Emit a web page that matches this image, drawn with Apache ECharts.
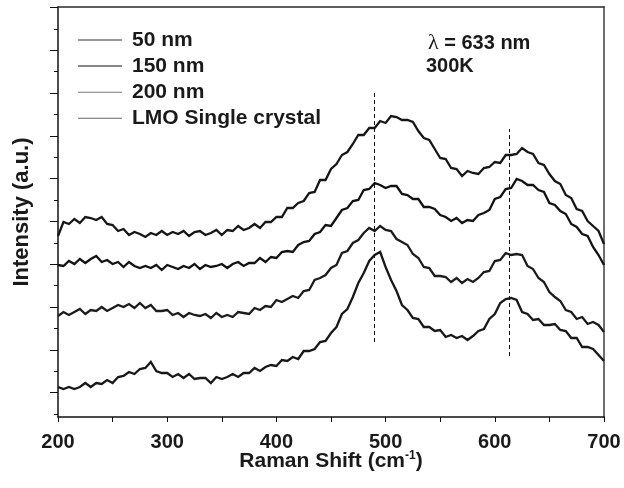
<!DOCTYPE html>
<html>
<head>
<meta charset="utf-8">
<script src="https://cdn.jsdelivr.net/npm/echarts@6/dist/echarts.min.js"></script>
<style>html,body{margin:0;padding:0;background:#fff}#chart{width:624px;height:488px}</style>
</head>
<body>
<div id="chart"></div>
<script>
// Raman shift axis (cm-1)
const ramanShift = [200,205,210,215,220,225,230,235,240,245,250,255,260,265,270,275,280,285,290,295,300,305,310,315,320,325,330,335,340,345,350,355,360,365,370,375,380,385,390,395,400,405,410,415,420,425,430,435,440,445,450,455,460,465,470,475,480,485,490,495,500,505,510,515,520,525,530,535,540,545,550,555,560,565,570,575,580,585,590,595,600,605,610,615,620,625,630,635,640,645,650,655,660,665,670,675,680,685,690,695,700];

// Intensities (a.u., spectra stacked with offsets)
const nm50 = [181,195,193,198,194,200,199,197,200,193,192,186,188,182,185,183,180,184,182,186,182,185,183,186,181,185,186,182,184,187,182,187,186,191,187,189,193,189,195,195,200,200,209,209,214,216,224,225,237,237,248,253,262,265,273,282,282,289,289,296,294,301,300,297,297,295,286,279,277,268,259,258,249,248,241,246,244,243,249,250,255,254,262,262,263,269,265,263,254,252,243,236,233,222,219,208,206,196,191,186,173];
const nm150 = [152,151,156,153,158,154,158,161,155,157,153,155,150,155,151,149,151,149,152,147,152,150,148,151,149,153,148,152,150,151,153,149,153,155,151,154,154,159,155,160,159,165,166,165,172,175,176,183,185,192,191,199,207,209,216,217,227,228,234,232,229,231,231,223,222,218,218,210,210,208,202,200,196,199,194,197,196,202,204,207,218,220,228,229,238,236,232,232,227,225,214,212,206,203,193,190,183,181,170,162,152];
const nm200 = [101,105,102,105,108,103,107,106,110,106,109,112,110,113,109,114,109,112,106,106,107,102,104,100,104,102,101,103,99,104,100,102,100,105,104,103,109,107,111,110,117,115,118,121,119,126,127,137,139,142,149,152,164,166,174,177,184,189,186,191,187,186,178,175,172,163,159,150,149,141,141,140,135,139,134,138,135,139,145,146,156,157,164,162,163,162,151,148,139,135,125,120,116,107,105,98,100,93,95,92,85];
const singleCrystal = [30,28,30,28,30,34,30,34,33,37,34,40,41,45,43,48,49,55,46,44,44,40,43,39,43,38,39,39,34,40,38,40,43,40,44,44,49,46,50,52,51,57,56,60,58,66,66,68,75,76,84,90,103,108,120,134,144,156,162,165,150,137,126,112,107,99,98,90,90,86,87,80,82,79,81,77,81,86,88,98,103,114,118,119,117,105,103,97,98,92,92,93,87,86,79,79,70,70,68,62,56];

const seriesNames = ['50 nm', '150 nm', '200 nm', 'LMO Single crystal'];
const seriesValues = [nm50, nm150, nm200, singleCrystal];
const xTickLabels = [200, 300, 400, 500, 600, 700];

// Intensity axis tick marks (a.u.): short and long alternate
const yTicksShort = [3, 45.8, 88.6, 131.4, 174.2, 217, 259.8, 302.6, 345.4, 388.2];
const yTicksLong = [24.4, 67.2, 110, 152.8, 195.6, 238.4, 281.2, 324, 366.8, 409.6];

// Raman mode guide lines (cm-1) and their vertical extent (a.u.)
const modePositions = [490, 613];
const modeLineRanges = [[75, 324], [61, 288]];

const FONT = '"Liberation Sans", Arial, Helvetica, sans-serif';
const INK = '#1a1a1a';
const lineColors = ['#161616', '#121212', '#1c1c1c', '#181818'];
const legendColors = ['#333333', '#111111', '#777777', '#666666'];

const chart = echarts.init(document.getElementById('chart'), null, { renderer: 'canvas' });

const series = seriesNames.map((name, i) => ({
  name,
  type: 'line',
  xAxisIndex: 0,
  yAxisIndex: 0,
  showSymbol: false,
  symbol: 'none',
  lineStyle: { color: lineColors[i], width: 2.3, join: 'miter', miterLimit: 3 },
  itemStyle: { color: lineColors[i] },
  data: ramanShift.map((x, k) => [x, seriesValues[i][k]]),
  z: 3
}));

series[0].markLine = {
  silent: true,
  symbol: 'none',
  label: { show: false },
  lineStyle: { color: '#111', width: 1, type: [4, 3] },
  data: modePositions.map((x, i) => [
    { coord: [x, modeLineRanges[i][0]] },
    { coord: [x, modeLineRanges[i][1]] }
  ])
};

const hiddenParts = { axisLabel: { show: false }, splitLine: { show: false } };

chart.setOption({
  animation: false,
  backgroundColor: '#fff',
  grid: { left: 58, right: 20, top: 7, bottom: 71 },
  title: [
    {
      text: '{l|λ} = 633 nm',
      left: 428, top: 32, padding: 0,
      textStyle: {
        fontFamily: FONT, fontSize: 20, fontWeight: 'bold', color: INK,
        rich: { l: { fontFamily: '"Liberation Serif", "DejaVu Serif", serif', fontWeight: 'normal', fontSize: 22, color: INK } }
      }
    },
    {
      text: '300K',
      left: 426, top: 56, padding: 0,
      textStyle: { fontFamily: FONT, fontSize: 20, fontWeight: 'bold', color: INK }
    }
  ],
  legend: {
    orient: 'vertical',
    left: 78, top: 29.5,
    itemWidth: 44, itemHeight: 1,
    itemGap: 5.1,
    icon: 'rect',
    padding: 0,
    selectedMode: false,
    textStyle: { fontFamily: FONT, fontSize: 21, fontWeight: 'bold', color: INK, padding: [0, 0, 0, 5] },
    data: seriesNames.map((name, i) => ({ name, itemStyle: { color: legendColors[i] } }))
  },
  xAxis: [
    {
      type: 'value', min: 200, max: 700, interval: 50,
      position: 'bottom',
      axisLine: { onZero: false, lineStyle: { color: '#111', width: 1.5 } },
      axisTick: { show: true, inside: false, length: 5, lineStyle: { color: '#111', width: 1 } },
      axisLabel: {
        margin: 15, fontFamily: FONT, fontSize: 20, fontWeight: 'bold', color: INK,
        formatter: v => (xTickLabels.indexOf(v) >= 0 ? String(v) : '')
      },
      splitLine: { show: false },
      name: '{a|Raman Shift (cm}{s|-1}{a|)}',
      nameLocation: 'middle',
      nameGap: 33,
      nameMoveOverlap: false,
      nameTextStyle: {
        rich: {
          a: { fontFamily: FONT, fontSize: 21, fontWeight: 'bold', color: INK, lineHeight: 22 },
          s: { fontFamily: FONT, fontSize: 12, fontWeight: 'bold', color: INK, verticalAlign: 'top', lineHeight: 12 }
        }
      }
    },
    {
      type: 'value', min: 200, max: 700, position: 'top',
      axisLine: { onZero: false, lineStyle: { color: '#2a2a2a', width: 1.5 } },
      axisTick: { show: false }, ...hiddenParts
    }
  ],
  yAxis: [
    {
      type: 'value', min: 0, max: 410, position: 'left',
      axisLine: { show: true, onZero: false, lineStyle: { color: '#111', width: 1.5 } },
      axisTick: { show: true, inside: false, length: 4, customValues: yTicksShort, lineStyle: { color: '#111', width: 1 } },
      ...hiddenParts,
      name: 'Intensity (a.u.)',
      nameLocation: 'middle',
      nameGap: 25,
      nameMoveOverlap: false,
      nameTextStyle: { fontFamily: FONT, fontSize: 22, fontWeight: 'bold', color: INK }
    },
    {
      type: 'value', min: 0, max: 410, position: 'right',
      axisLine: { show: true, onZero: false, lineStyle: { color: '#6e6e6e', width: 2 } },
      axisTick: { show: false }, ...hiddenParts
    },
    {
      // long tick marks of the intensity axis
      type: 'value', min: 0, max: 410, position: 'left',
      axisLine: { show: false, onZero: false },
      axisTick: { show: true, inside: false, length: 8, customValues: yTicksLong, lineStyle: { color: '#111', width: 1 } },
      ...hiddenParts
    }
  ],
  series
});
</script>
</body>
</html>
